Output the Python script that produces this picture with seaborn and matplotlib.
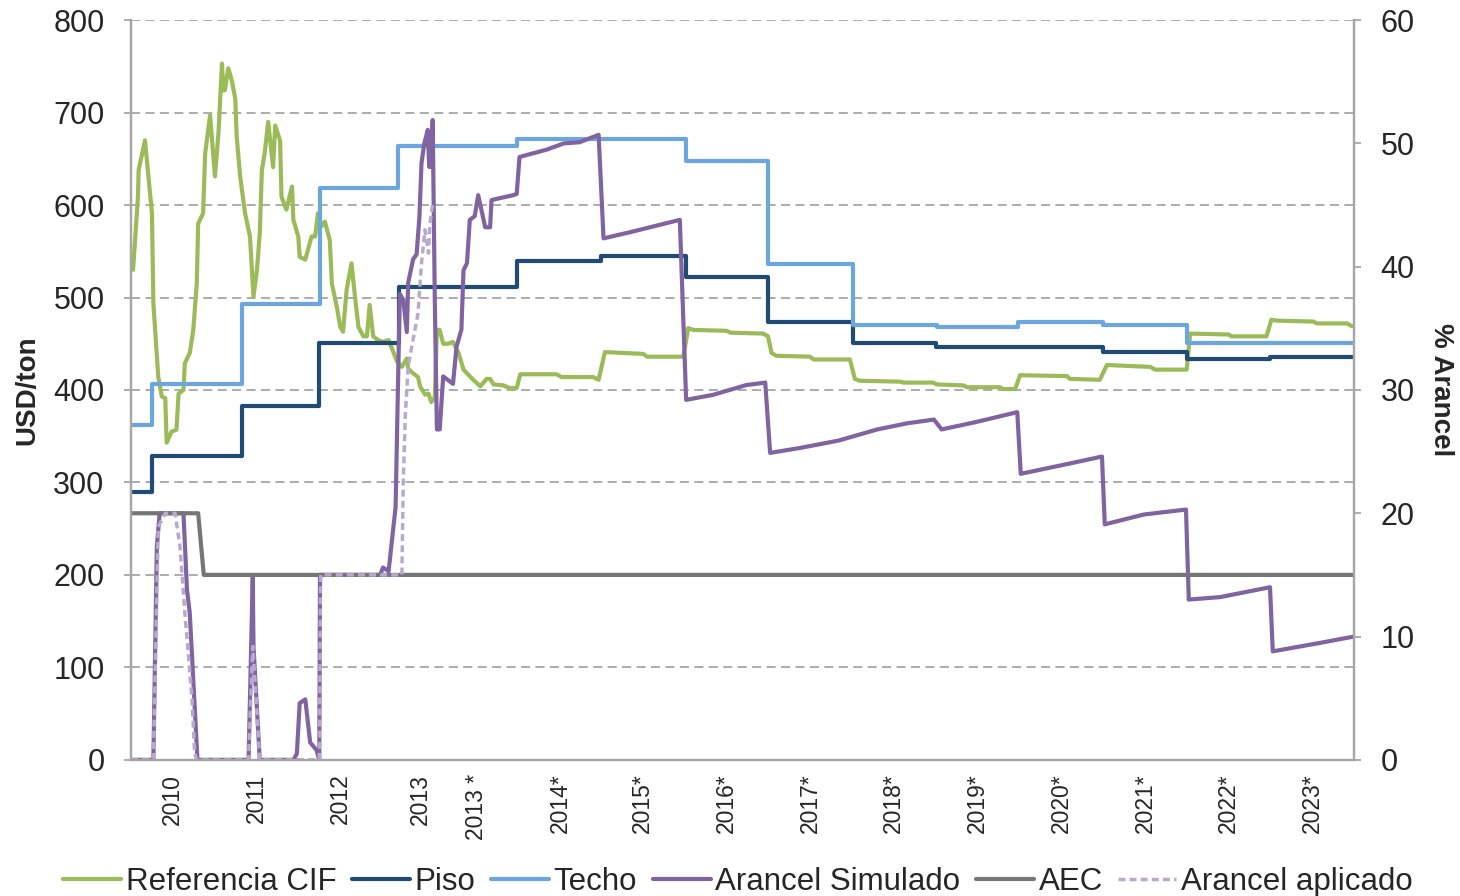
import numpy as np
import pandas as pd
import matplotlib
matplotlib.use("Agg")
import matplotlib.pyplot as plt
import seaborn as sns

# eje x: meses desde el inicio de la serie
tick_pos = [5.9, 17.9, 29.9, 41.4, 49.3, 61.3, 73.1, 85.1, 97.0, 108.9, 120.9, 132.9, 144.9, 156.7, 168.7]
tick_lab = ["2010", "2011", "2012", "2013", "2013 *", "2014*", "2015*", "2016*", "2017*",
            "2018*", "2019*", "2020*", "2021*", "2022*", "2023*"]
x_fin = 174.7

# Referencia CIF (USD/ton)
cif_x = [0.3, 1.0, 1.1, 2.0, 3.0, 3.2, 3.9, 4.4, 4.9, 5.1, 5.8, 6.5, 6.8, 7.5, 7.7, 8.4, 8.9, 9.4, 9.6,
         10.3, 10.6, 11.3, 12.0, 12.5, 13.0, 13.2, 13.4, 13.9, 14.4, 14.9, 15.1, 15.6, 16.3, 17.0, 17.5,
         18.0, 18.4, 18.7, 19.1, 19.6, 20.3, 20.6, 21.3, 21.5, 22.2, 23.0, 23.2, 23.9, 24.1, 24.9, 25.8,
         26.3, 26.7, 27.2, 27.7, 28.4, 28.7, 29.4, 29.9, 30.3, 30.8, 31.5, 32.0, 32.5, 33.2, 33.7, 34.1,
         34.6, 35.3, 36.0, 36.8, 38.0, 38.7, 39.4, 39.6, 40.3, 41.0, 41.3, 42.0, 42.5, 42.9, 43.4, 43.7,
         44.1, 44.6, 45.3, 46.0, 46.8, 47.5, 48.0, 48.9, 49.9, 50.8, 51.3, 51.8, 53.2, 54.1, 55.1, 55.6,
         60.8, 61.5, 66.0, 66.8, 67.7, 73.2, 73.7, 78.9, 79.6, 80.3, 85.1, 85.6, 90.3, 91.0, 91.5, 92.2,
         97.0, 97.5, 102.7, 103.4, 104.1, 109.9, 110.3, 114.6, 115.1, 118.9, 119.4, 124.1, 124.6, 126.3,
         127.0, 133.7, 134.1, 138.4, 139.4, 145.6, 146.3, 150.8, 151.3, 156.8, 157.2, 162.2, 162.9,
         163.7, 168.9, 169.4, 173.7, 174.4]
cif_y = [530, 609, 638, 670, 591, 494, 414, 393, 391, 343, 355, 357, 396, 400, 429, 440, 465, 515, 580,
         591, 656, 697, 631, 678, 753, 724, 724, 748, 735, 715, 674, 631, 591, 566, 501,
         530, 570, 638, 656, 690, 641, 686, 670, 609, 595, 620, 584, 566, 544, 541, 566,
         566, 591, 577, 582, 562, 515, 490, 468, 463, 508, 537, 501, 468, 458, 458, 492,
         458, 454, 452, 454, 431, 425, 434, 423, 418, 414, 404, 395, 396, 387, 392, 465,
         465, 450, 450, 452, 440, 422, 418, 411, 404, 412, 412, 406, 405, 402, 402, 417,
         417, 414, 414, 411, 441, 439, 436, 436, 467, 465, 464, 462, 461, 458, 440, 437,
         436, 433, 433, 412, 410, 409, 408, 408, 406, 405, 403, 403, 401, 401,
         416, 415, 412, 411, 427, 425, 422, 422, 461, 460, 458, 458, 476,
         475, 474, 472, 472, 469]

# Piso y Techo (USD/ton), escalones
piso_x = [0, 3.0, 15.9, 26.9, 38.3, 55.1, 67.1, 79.3, 91.0, 103.1, 115.0, 138.9, 150.9, 162.7, x_fin]
piso_y = [290, 329, 383, 451, 511, 540, 545, 522, 474, 451, 446, 441, 433, 436, 436]
techo_x = [0, 3.0, 15.9, 27.0, 38.2, 55.1, 79.3, 91.0, 103.1, 115.1, 126.7, 138.9, 150.9, x_fin]
techo_y = [362, 407, 493, 618, 664, 672, 648, 536, 470, 468, 473, 470, 451, 451]

# Arancel simulado (%)
sim_x = [0, 3.2, 3.7, 4.1, 7.5, 8.0, 8.4, 9.5, 16.8, 17.4, 17.5, 18.4, 23.2, 23.7, 24.1, 24.9, 25.6,
         26.5, 26.9, 27.0, 35.6, 36.0, 36.8, 37.8, 38.4, 38.9, 39.4, 39.6, 40.3, 40.8, 41.2, 41.5, 41.9,
         42.4, 42.6, 42.9, 43.1, 43.4, 43.7, 44.1, 44.6, 45.3, 46.0, 46.5, 47.2, 47.5, 48.0, 48.4, 49.1,
         49.6, 50.6, 51.3, 51.5, 52.2, 54.6, 55.1, 55.5, 59.4, 61.8, 64.1, 66.8, 67.5, 71.3, 78.4, 79.3,
         83.1, 87.9, 90.6, 91.3, 95.6, 101.1, 106.6, 110.9, 114.7, 115.8, 120.7, 126.6, 127.1, 133.8,
         138.7, 139.1, 144.7, 150.7, 151.1, 155.6, 162.7, 163.1, 170.0, 174.7]
sim_y = [0, 0, 17.3, 20, 20, 13.8, 11.9, 0, 0, 14.9, 9.2, 0, 0, 0.5, 4.6, 4.9, 1.4,
         0.8, 0, 15, 15, 15.6, 15.3, 20.5, 37.8, 37.3, 34.7, 38.7, 40.6, 41.0, 44.0, 48.4, 50.0,
         51.1, 48.1, 48.1, 51.9, 37.3, 26.8, 26.8, 31.1, 30.8, 30.5, 33.5, 34.9, 39.7, 40.3, 43.8, 44.1,
         45.8, 43.2, 43.2, 45.4, 45.5, 45.8, 45.9, 48.9, 49.5, 50.0, 50.1, 50.7, 42.3, 42.8, 43.8, 29.2,
         29.6, 30.4, 30.6, 24.9, 25.3, 25.9, 26.8, 27.3, 27.6, 26.8, 27.4, 28.2, 23.2, 24.0,
         24.6, 19.1, 19.9, 20.3, 13.0, 13.2, 14.0, 8.8, 9.5, 10.0]

# AEC (%)
aec_x = [0, 9.6, 10.4, x_fin]
aec_y = [20, 20, 15, 15]

# Arancel aplicado (%)
apl_x = [0, 3.2, 3.9, 4.9, 6.3, 7.0, 7.7, 8.7, 9.1, 9.4, 16.8, 17.4, 18.0, 18.4, 26.9, 27.1, 38.7,
         38.9, 39.2, 39.6, 40.3, 41.0, 41.5, 42.0, 42.5, 42.7, 43.1]
apl_y = [0, 0, 18.9, 20, 20, 17.3, 11.9, 5.1, 0.5, 0, 0, 9.2, 3.8, 0, 0, 15, 15,
         22.7, 28.1, 31.9, 34.1, 36.2, 40.3, 43.0, 41.1, 43.5, 45.1]

c_cif, c_piso, c_techo = "#9BBB59", "#1F4B75", "#6CA6DF"
c_sim, c_aec, c_apl = "#8064A2", "#767676", "#B9A9CF"
gris = "#A6A6A6"

sns.set_style("white")
plt.rcParams["font.family"] = ["Liberation Sans", "DejaVu Sans"]

fig = plt.figure(figsize=(14.6, 8.96), dpi=100)
ax = fig.add_axes([0.0897, 0.152, 0.8377, 0.8255])
ax2 = ax.twinx()

lw = 3.0
sns.lineplot(x=cif_x, y=cif_y, ax=ax, color=c_cif, lw=lw, estimator=None, sort=False, label="Referencia CIF")
sns.lineplot(x=piso_x, y=piso_y, ax=ax, color=c_piso, lw=lw, estimator=None, sort=False,
             drawstyle="steps-post", label="Piso")
sns.lineplot(x=techo_x, y=techo_y, ax=ax, color=c_techo, lw=lw, estimator=None, sort=False,
             drawstyle="steps-post", label="Techo")
sns.lineplot(x=sim_x, y=sim_y, ax=ax2, color=c_sim, lw=lw, estimator=None, sort=False, label="Arancel Simulado")
sns.lineplot(x=aec_x, y=aec_y, ax=ax2, color=c_aec, lw=lw, estimator=None, sort=False, label="AEC")
sns.lineplot(x=apl_x, y=apl_y, ax=ax2, color=c_apl, lw=2.5, estimator=None, sort=False,
             linestyle=(0, (2.0, 1.2)), label="Arancel aplicado")

h1, l1 = ax.get_legend_handles_labels()
h2, l2 = ax2.get_legend_handles_labels()
ax.get_legend().remove()
ax2.get_legend().remove()

ax.set_xlim(0, x_fin)
ax.set_ylim(0, 800)
ax2.set_ylim(0, 60)
ax.set_yticks(np.arange(0, 801, 100))
ax2.set_yticks(np.arange(0, 61, 10))
ax.set_xticks(tick_pos)
ax.set_xticklabels(tick_lab, rotation=90, fontsize=16.5)
ax.tick_params(axis="x", length=0, pad=10)
ax.tick_params(axis="y", labelsize=22, length=5, width=1.3, color=gris, direction="out", pad=14)
ax2.tick_params(axis="y", labelsize=22, length=5, width=1.3, color=gris, direction="out", pad=14)

ax.yaxis.grid(True, linestyle=(0, (5, 3)), color=gris, lw=1.3)
ax.xaxis.grid(False)
ax2.grid(False)

for a in (ax, ax2):
    a.spines["top"].set_visible(False)
    for s in ("left", "right", "bottom"):
        a.spines[s].set_color(gris)
        a.spines[s].set_linewidth(1.6)

ax.set_ylabel("USD/ton", fontsize=20, fontweight="bold")
ax.yaxis.set_label_coords(-0.074, 0.5)
ax2.set_ylabel("% Arancel", fontsize=20, fontweight="bold", rotation=270, va="center")
ax2.yaxis.set_label_coords(1.071, 0.5)

fig.legend(h1 + h2, l1 + l2, loc="center", bbox_to_anchor=(0.5055, 0.016), ncol=6, frameon=False,
           fontsize=22.5, handlelength=1.85, handletextpad=0.15, columnspacing=0.5, borderpad=0)

fig.savefig("out.png", dpi=100)
